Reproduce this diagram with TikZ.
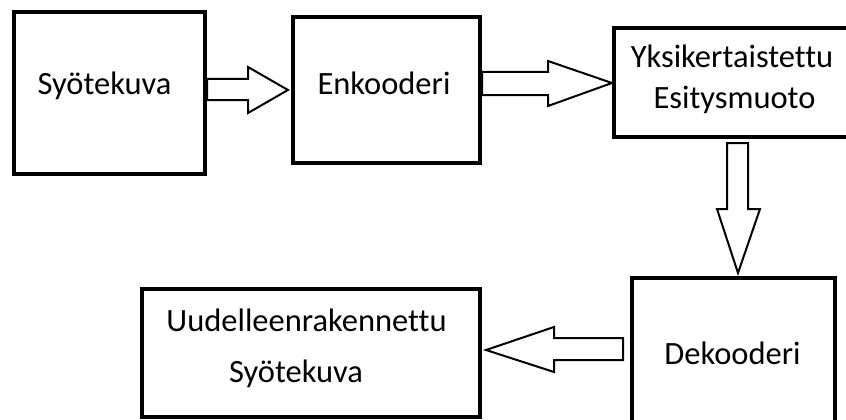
\documentclass[tikz,border=0pt]{standalone}
\usepackage{fontspec}
\setmainfont[Ligatures={NoCommon}]{Carlito}
\usetikzlibrary{calc}
\begin{document}
\begin{tikzpicture}[x=1pt,y=-1pt,
  box/.style={draw=black, line width=4pt, inner sep=0pt, outer sep=0pt},
  lbl/.style={font=\fontsize{32.5}{40}\selectfont, inner sep=0pt, anchor=base, text=black},
  blk/.style={draw=black, line width=2pt, fill=white, line join=miter, miter limit=20}]
\useasboundingbox (0,0) rectangle (846,420);
\fill[white] (0,0) rectangle (846,420);
% boxes
\node[box, minimum width=191pt, minimum height=162pt] (syote) at (109.5,93) {};
\node[box, minimum width=187pt, minimum height=146pt] (enk) at (386.5,90) {};
\node[box, minimum width=256pt, minimum height=109pt] (yksi) at (742,82.5) {};
\node[box, minimum width=203pt, minimum height=162pt] (dek) at (733.5,359) {};
\node[box, minimum width=338pt, minimum height=128pt] (uud) at (311,353) {};
% texts
\node[lbl] (t1) at (104.5,95) {Syötekuva};
\node[lbl] (t2) at (384,94) {Enkooderi};
\node[lbl] (t3a) at (732,67) {Yksikertaistettu};
\node[lbl] (t3b) at (734.5,108) {Esitysmuoto};
\node[lbl] (t4) at (732.5,364) {Dekooderi};
\node[lbl] (t5a) at (306.5,331) {Uudelleenrakennettu};
\node[lbl] (t5b) at (296,382) {Syötekuva};
% block arrows
\draw[blk, shift={(syote.east)}] (2,-14) -- (43,-14) -- (43,-26) -- (83,-3) -- (43,20) -- (43,7) -- (2,7) -- cycle;
\draw[blk, shift={(enk.east)}] (2,-18) -- (68,-18) -- (68,-29) -- (132,-7) -- (68,16) -- (68,5) -- (2,5) -- cycle;
\draw[blk, shift={(yksi.south)}] (-15,6) -- (6,6) -- (6,72) -- (18,72) -- (-4,136) -- (-25,72) -- (-15,72) -- cycle;
\draw[blk, shift={(dek.west)}] (-9,-21) -- (-9,1) -- (-78,1) -- (-78,13) -- (-146,-9) -- (-78,-32) -- (-78,-21) -- cycle;
\end{tikzpicture}
\end{document}
